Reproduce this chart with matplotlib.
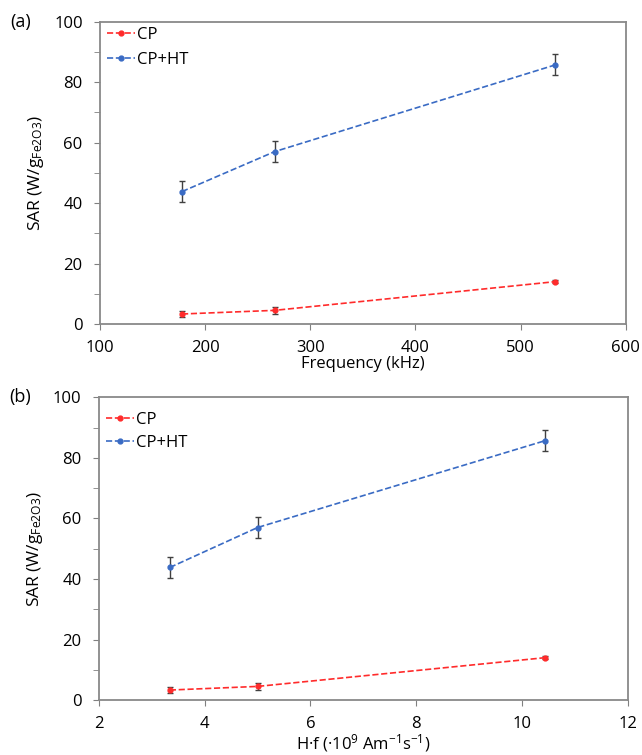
import matplotlib
matplotlib.use("Agg")
import matplotlib.pyplot as plt
from matplotlib.ticker import MultipleLocator

plt.rcParams['font.family'] = ['Open Sans', 'DejaVu Sans']
plt.rcParams['mathtext.fontset'] = 'custom'
plt.rcParams['mathtext.rm'] = 'Open Sans'
plt.rcParams['mathtext.it'] = 'Open Sans'

# data
freq = [178, 266, 533]
hf = [3.34, 5.0, 10.44]
sar_cp = [3.3, 4.5, 14.0]
err_cp = [1.1, 1.1, 0.4]
sar_cpht = [43.8, 57.0, 85.7]
err_cpht = [3.4, 3.5, 3.5]

fig = plt.figure(figsize=(6.42, 7.55), dpi=100)
ax1 = fig.add_axes([0.1558, 0.5709, 0.8188, 0.4004])
ax2 = fig.add_axes([0.1542, 0.0728, 0.8235, 0.4009])

def draw(ax, x, xlim, xstep, xlabel, tag, leg_y, leg_sp):
  ax.errorbar(x, sar_cp, yerr=err_cp, color='#ff2b2b', ls='--', lw=1.2,
              marker='o', ms=3.5, ecolor='#404040', elinewidth=1, capsize=2.3,
              label='CP', zorder=3)
  ax.errorbar(x, sar_cpht, yerr=err_cpht, color='#3a6bc4', ls='--', lw=1.2,
              marker='o', ms=3.5, ecolor='#404040', elinewidth=1, capsize=2.3,
              label='CP+HT', zorder=3)
  ax.set_xlim(xlim)
  ax.set_ylim(0, 100)
  ax.xaxis.set_major_locator(MultipleLocator(xstep))
  ax.yaxis.set_major_locator(MultipleLocator(20))
  ax.yaxis.set_minor_locator(MultipleLocator(10))
  ax.tick_params(which='both', direction='out', color='#808080', labelsize=12)
  ax.tick_params(which='major', length=4.5, pad=8)
  ax.tick_params(axis='x', which='major', pad=7)
  ax.tick_params(which='minor', length=4)
  for s in ax.spines.values():
    s.set_color('#898989')
    s.set_linewidth(1.3)
  ax.set_xlabel(xlabel, fontsize=12, labelpad=0)
  ax.set_ylabel('SAR (W/g$_{\\rm Fe2O3}$)', fontsize=12.5, labelpad=6)
  handles, labels = ax.get_legend_handles_labels()
  handles = [h[0] for h in handles]
  ax.legend(handles, labels, loc='upper left', bbox_to_anchor=(0.013, leg_y),
            frameon=False, fontsize=12, handlelength=1.7, handletextpad=0.12,
            borderaxespad=0, borderpad=0, labelspacing=leg_sp)
  ax.text(-0.17, 1.0, tag, transform=ax.transAxes, fontsize=13,
          ha='left', va='center')

draw(ax1, freq, (100, 600), 100, 'Frequency (kHz)', '(a)', 0.984, 0.55)
draw(ax2, hf, (2, 12), 2, 'H·f (·10$^{9}$ Am$^{-1}$s$^{-1}$)', '(b)', 0.951, 0.38)

fig.savefig('out.png', dpi=100)
